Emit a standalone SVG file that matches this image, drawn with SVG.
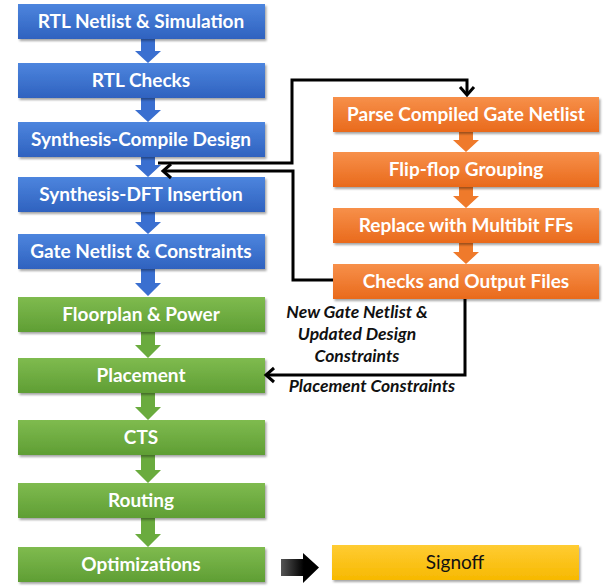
<svg xmlns="http://www.w3.org/2000/svg" width="616" height="587" viewBox="0 0 616 587">
<style>
.lbl{font-family:Lato,"Liberation Sans",sans-serif;font-weight:bold;font-size:19px;fill:#fff;text-anchor:middle}
.sig{font-family:Lato,"Liberation Sans",sans-serif;font-size:19px;fill:#111;text-anchor:middle}
.note{font-family:Lato,"Liberation Sans",sans-serif;font-weight:bold;font-style:italic;font-size:17.5px;fill:#111;text-anchor:middle}
.conn{fill:none;stroke:#000;stroke-width:3}
.blue{fill:url(#gBlue)}
.green{fill:url(#gGreen)}
.orange{fill:url(#gOrange)}
.yellow{fill:url(#gYellow)}
.ab{fill:#3a6fd0}
.ag{fill:#6aab3e}
.ao{fill:#ef7a2b}
</style>
<defs>
<linearGradient id="gBlue" x1="0" y1="0" x2="0" y2="1"><stop offset="0" stop-color="#4d85de"/><stop offset="1" stop-color="#2f62bf"/></linearGradient>
<linearGradient id="gGreen" x1="0" y1="0" x2="0" y2="1"><stop offset="0" stop-color="#7fbb4f"/><stop offset="1" stop-color="#5f9e34"/></linearGradient>
<linearGradient id="gOrange" x1="0" y1="0" x2="0" y2="1"><stop offset="0" stop-color="#f7904a"/><stop offset="1" stop-color="#e96a1c"/></linearGradient>
<linearGradient id="gYellow" x1="0" y1="0" x2="0" y2="1"><stop offset="0" stop-color="#ffcc33"/><stop offset="1" stop-color="#f7b900"/></linearGradient>
<linearGradient id="gBlack" x1="0" y1="0" x2="1" y2="0"><stop offset="0" stop-color="#555"/><stop offset="0.6" stop-color="#000"/><stop offset="1" stop-color="#000"/></linearGradient>
<filter id="sh" x="-5%" y="-20%" width="110%" height="150%"><feDropShadow dx="1.5" dy="2" stdDeviation="1.2" flood-color="#000" flood-opacity="0.35"/></filter>
<marker id="chev" markerUnits="userSpaceOnUse" markerWidth="20" markerHeight="20" viewBox="-12 -10 14 20" refX="0" refY="0" orient="auto">
<path d="M-8,-7 L0,0 L-8,7" fill="none" stroke="#000" stroke-width="3"/>
</marker>
</defs>

<g id="flow-arrows">
<path class="ab" d="M141,39 H155 V51 H161 L148,63 L135,51 H141 Z"/>
<path class="ab" d="M141,98 H155 V110 H161 L148,122 L135,110 H141 Z"/>
<path class="ab" d="M141,157 H155 V165 H161 L148,177 L135,165 H141 Z"/>
<path class="ab" d="M141,212 H155 V222 H161 L148,234 L135,222 H141 Z"/>
<path class="ab" d="M141,269 H155 V283 H161 L148,296 L135,283 H141 Z"/>
<path class="ag" d="M141,332 H155 V345 H161 L148,358 L135,345 H141 Z"/>
<path class="ag" d="M141,393 H155 V407 H161 L148,420 L135,407 H141 Z"/>
<path class="ag" d="M141,455 H155 V470 H161 L148,483 L135,470 H141 Z"/>
<path class="ag" d="M141,518 H155 V534 H161 L148,547 L135,534 H141 Z"/>
<path class="ao" d="M459,132 H473 V140 H479 L466,152 L453,140 H459 Z"/>
<path class="ao" d="M459,187 H473 V196 H479 L466,208 L453,196 H459 Z"/>
<path class="ao" d="M459,243 H473 V252 H479 L466,264 L453,252 H459 Z"/>
<path fill="url(#gBlack)" d="M281,559 H303 V553 L319,567.5 L303,583 V576 H281 Z"/>
</g>

<g id="n1"><rect class="blue" filter="url(#sh)" x="18" y="4" width="247" height="35"/><text class="lbl" x="141" y="28">RTL Netlist &amp; Simulation</text></g>
<g id="n2"><rect class="blue" filter="url(#sh)" x="18" y="63" width="247" height="35"/><text class="lbl" x="141" y="87">RTL Checks</text></g>
<g id="n3"><rect class="blue" filter="url(#sh)" x="18" y="122" width="247" height="35"/><text class="lbl" x="141" y="146">Synthesis-Compile Design</text></g>
<g id="n4"><rect class="blue" filter="url(#sh)" x="18" y="177" width="247" height="35"/><text class="lbl" x="141" y="201">Synthesis-DFT Insertion</text></g>
<g id="n5"><rect class="blue" filter="url(#sh)" x="18" y="234" width="247" height="35"/><text class="lbl" x="141" y="258">Gate Netlist &amp; Constraints</text></g>
<g id="n6"><rect class="green" filter="url(#sh)" x="18" y="297" width="247" height="35"/><text class="lbl" x="141" y="321">Floorplan &amp; Power</text></g>
<g id="n7"><rect class="green" filter="url(#sh)" x="18" y="358" width="247" height="35"/><text class="lbl" x="141" y="382">Placement</text></g>
<g id="n8"><rect class="green" filter="url(#sh)" x="18" y="420" width="247" height="35"/><text class="lbl" x="141" y="444">CTS</text></g>
<g id="n9"><rect class="green" filter="url(#sh)" x="18" y="483" width="247" height="35"/><text class="lbl" x="141" y="507">Routing</text></g>
<g id="n10"><rect class="green" filter="url(#sh)" x="18" y="547" width="247" height="35"/><text class="lbl" x="141" y="571">Optimizations</text></g>

<g id="r1"><rect class="orange" filter="url(#sh)" x="333" y="97" width="266" height="35"/><text class="lbl" x="466" y="121">Parse Compiled Gate Netlist</text></g>
<g id="r2"><rect class="orange" filter="url(#sh)" x="333" y="152" width="266" height="35"/><text class="lbl" x="466" y="176">Flip-flop Grouping</text></g>
<g id="r3"><rect class="orange" filter="url(#sh)" x="333" y="208" width="266" height="35"/><text class="lbl" x="466" y="232">Replace with Multibit FFs</text></g>
<g id="r4"><rect class="orange" filter="url(#sh)" x="333" y="264" width="266" height="35"/><text class="lbl" x="466" y="288">Checks and Output Files</text></g>

<g id="signoff"><rect class="yellow" filter="url(#sh)" x="332" y="545" width="247" height="35"/><text class="sig" x="455" y="569">Signoff</text></g>

<g id="connectors">
<path class="conn" d="M158,163 H292 V80 H467 V95" marker-end="url(#chev)"/>
<path class="conn" d="M333,280 H293 V171 H163" marker-end="url(#chev)"/>
<path class="conn" d="M465,299 V375 H266" marker-end="url(#chev)"/>
</g>

<g id="labels">
<text class="note" x="357" y="318">New Gate Netlist &amp;</text>
<text class="note" x="357" y="340">Updated Design</text>
<text class="note" x="357" y="362">Constraints</text>
<text class="note" x="372" y="392">Placement Constraints</text>
</g>
</svg>
